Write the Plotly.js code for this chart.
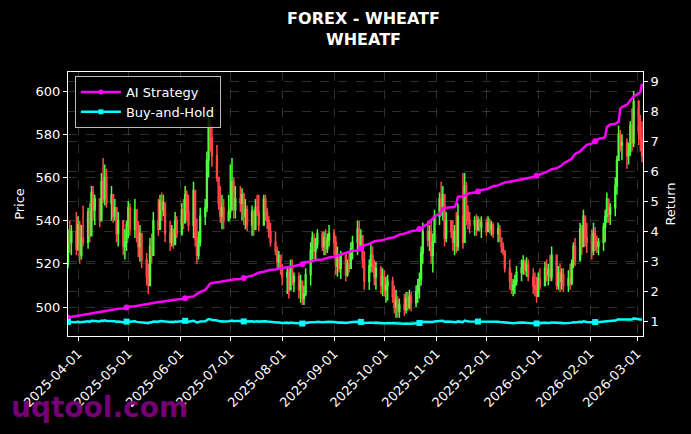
<!DOCTYPE html>
<html>
<head>
<meta charset="utf-8">
<script src="https://cdn.plot.ly/plotly-3.0.1.min.js"></script>
<style>
html,body{margin:0;padding:0;background:#000;}
#chart{width:691px;height:434px;}
</style>
</head>
<body>
<div id="chart"></div>
<script>
// ---- Data ----
const startDate = '2025-03-26';   // first trading day shown
const firstOpen = 520;

const closes = [
 533,530,535,527,538,524,532,530,544,533,
 553,545,550,540,558,550,560,548,552,542,
 546,534,540,528,530,538,546,536,545,533,
 528,534,522,514,510,528,524,540,536,549,
 545,548,534,530,536,529,540,534,545,539,
 552,544,538,554,532,524,530,542,546,568,
 585,578,570,560,548,542,546,540,544,545,
 558,545,550,548,552,542,545,538,544,536,
 546,544,538,550,544,540,535,530,526,521,
 524,518,514,516,508,519,512,514,508,512,
 504,506,515,526,532,526,529,534,528,532,
 527,531,534,530,519,522,518,524,515,520,
 518,527,530,536,528,533,522,512,519,524,
 520,514,518,510,514,508,510,512,505,500,
 503,498,501,499,504,500,505,502,507,510,
 513,525,535,531,535,524,530,542,550,547,
 552,532,540,535,530,535,528,542,530,556,
 544,540,538,540,536,540,537,539,535,539,
 536,538,534,536,532,528,526,518,512,508,
 510,512,516,518,521,517,520,514,510,508,
 505,513,510,518,515,517,514,524,510,516,
 512,515,510,513,511,520,528,522,536,528,
 542,532,530,526,534,530,528,530,537,542,
 550,543,546,556,568,580,575,576,570,572,
 584,576,595,582,578,570
];

const highs = [
 536,540,538,544,542,540,538,547,546,548,
 556,556,552,550,562,569,566,564,556,552,
 550,546,544,538,536,540,549,548,550,544,
 540,538,532,525,520,532,534,544,550,552,
 553,552,546,540,538,536,544,542,548,550,
 556,554,552,558,548,541,535,546,550,572,
 590,587,584,575,560,556,552,550,552,566,
 569,560,556,556,555,553,550,547,547,545,
 550,552,552,552,552,546,542,539,535,528,
 526,524,520,519,518,522,522,516,516,515,
 512,510,518,530,535,534,532,536,535,535,
 536,534,538,536,533,528,524,526,525,522,
 526,530,533,540,540,536,530,526,522,529,
 528,522,521,519,518,517,514,515,514,510,
 508,505,504,506,507,507,508,507,510,513,
 516,528,539,540,538,540,534,545,553,558,
 556,548,544,540,540,538,544,548,562,562,
 558,547,544,542,543,542,541,542,541,542,
 541,540,539,539,538,532,530,526,522,516,
 513,515,519,522,524,522,523,522,518,516,
 514,516,518,521,522,520,524,528,522,519,
 520,518,518,517,520,522,530,532,539,538,
 545,542,539,536,539,537,533,532,539,545,
 553,550,548,560,570,584,582,580,578,576,
 586,592,600,596,589,586
];

const lows = [
 518,525,524,524,526,520,522,528,527,530,
 536,540,538,537,540,548,547,546,540,539,
 540,530,528,524,522,526,532,533,532,530,
 523,521,518,510,506,512,520,524,533,536,
 540,542,530,526,528,527,530,532,533,536,
 539,540,535,532,528,520,522,528,538,544,
 560,572,565,558,545,539,536,536,540,541,
 550,541,541,544,540,538,536,535,533,533,
 540,542,535,541,540,536,532,528,524,518,
 518,515,510,506,504,508,510,507,504,502,
 501,501,505,510,522,522,522,527,526,524,
 524,525,528,524,515,514,516,513,512,514,
 516,518,522,524,526,527,518,508,508,516,
 516,510,508,506,505,505,502,503,502,497,
 495,495,495,496,497,498,499,498,500,502,
 504,510,520,528,526,520,516,530,538,542,
 540,528,530,532,526,524,525,526,527,540,
 538,536,534,533,533,535,535,532,533,536,
 534,533,532,530,530,525,524,516,508,506,
 505,506,510,512,515,515,514,512,506,505,
 502,508,508,513,512,510,512,512,508,508,
 507,508,507,507,508,510,518,519,521,524,
 532,528,525,522,524,526,525,524,526,530,
 539,539,538,542,552,568,572,568,564,566,
 570,572,574,575,572,567
];

const aiStrategy = [
 1.15,1.16,1.17,1.19,1.20,1.21,1.23,1.24,1.25,1.27,
 1.28,1.30,1.31,1.33,1.34,1.35,1.36,1.38,1.39,1.40,
 1.41,1.43,1.44,1.45,1.47,1.48,1.50,1.51,1.52,1.53,
 1.55,1.56,1.58,1.59,1.61,1.62,1.64,1.65,1.67,1.67,
 1.67,1.68,1.69,1.70,1.71,1.72,1.74,1.75,1.76,1.78,
 1.79,1.80,1.82,1.85,1.89,1.94,1.97,2.00,2.06,2.14,
 2.22,2.28,2.30,2.31,2.33,2.34,2.35,2.36,2.38,2.39,
 2.40,2.41,2.42,2.43,2.44,2.46,2.47,2.50,2.53,2.56,
 2.59,2.61,2.64,2.67,2.69,2.70,2.72,2.74,2.75,2.77,
 2.78,2.79,2.80,2.81,2.83,2.84,2.85,2.86,2.88,2.89,
 2.92,2.96,3.00,3.01,3.03,3.04,3.05,3.07,3.08,3.10,
 3.11,3.13,3.15,3.17,3.19,3.21,3.22,3.25,3.29,3.32,
 3.34,3.36,3.37,3.38,3.39,3.45,3.50,3.55,3.60,3.64,
 3.66,3.68,3.70,3.71,3.72,3.74,3.76,3.78,3.80,3.82,
 3.85,3.88,3.91,3.94,3.96,3.98,4.00,4.02,4.05,4.08,
 4.10,4.11,4.18,4.26,4.34,4.40,4.44,4.52,4.60,4.70,
 4.78,4.80,4.81,4.82,4.82,4.83,4.94,5.17,5.19,5.21,
 5.24,5.26,5.29,5.31,5.33,5.35,5.37,5.40,5.42,5.45,
 5.48,5.50,5.52,5.55,5.57,5.60,5.62,5.65,5.67,5.68,
 5.70,5.71,5.73,5.74,5.75,5.77,5.78,5.80,5.83,5.85,
 5.87,5.89,5.92,5.96,6.00,6.03,6.06,6.09,6.12,6.15,
 6.17,6.22,6.28,6.35,6.40,6.44,6.52,6.60,6.68,6.74,
 6.78,6.84,6.90,6.94,6.98,7.02,7.06,7.10,7.14,7.17,
 7.50,7.55,7.58,7.60,7.64,7.67,8.11,8.16,8.24,8.32,
 8.39,8.45,8.52,8.61,8.66,8.94
];

const seriesNames = ['AI Strategy', 'Buy-and-Hold'];
const xTickLabels = ['2025-04-01','2025-05-01','2025-06-01','2025-07-01','2025-08-01','2025-09-01',
 '2025-10-01','2025-11-01','2025-12-01','2026-01-01','2026-02-01','2026-03-01'];
const priceTicks = [500,520,540,560,580,600];
const returnTicks = [1,2,3,4,5,6,7,8,9];

// ---- Derived ----
// trading-day calendar (Mon-Fri) starting at startDate
const dates = [];
{
  let d = new Date(startDate + 'T00:00:00Z');
  while (dates.length < closes.length) {
    const wd = d.getUTCDay();
    if (wd !== 0 && wd !== 6) dates.push(d.toISOString().slice(0,10));
    d = new Date(d.getTime() + 86400000);
  }
}
const opens = [firstOpen].concat(closes.slice(0, -1));
const buyHold = closes.map(c => c / closes[0]);
const markEvery = 25;
const pick = arr => arr.filter((_, i) => i % markEvery === 0);

const GREEN = '#4dff3d';
const RED = '#ff4747';
const MAG = '#ff00ff';
const CYAN = '#00ffff';
const FONT = 'DejaVu Sans, Verdana, sans-serif';

const traces = [
  {
    type: 'candlestick',
    x: dates, open: opens, high: highs, low: lows, close: closes,
    increasing: {line: {color: GREEN, width: 1.5}, fillcolor: GREEN},
    decreasing: {line: {color: RED, width: 1.5}, fillcolor: RED},
    whiskerwidth: 0, showlegend: false, hoverinfo: 'skip', yaxis: 'y'
  },
  // lines
  {type: 'scatter', mode: 'lines', x: dates, y: aiStrategy, yaxis: 'y2',
   line: {color: MAG, width: 2.5}, showlegend: false, legendgroup: 'ai'},
  {type: 'scatter', mode: 'lines', x: dates, y: buyHold, yaxis: 'y2',
   line: {color: CYAN, width: 2.5}, showlegend: false, legendgroup: 'bh'},
  // periodic markers
  {type: 'scatter', mode: 'markers', x: pick(dates), y: pick(aiStrategy), yaxis: 'y2',
   marker: {color: MAG, size: 6, symbol: 'circle', line: {width: 0}}, showlegend: false, legendgroup: 'ai'},
  {type: 'scatter', mode: 'markers', x: pick(dates), y: pick(buyHold), yaxis: 'y2',
   marker: {color: CYAN, size: 6, symbol: 'square', line: {width: 0}}, showlegend: false, legendgroup: 'bh'},
  // legend entries
  {type: 'scatter', mode: 'lines+markers', name: seriesNames[0], x: [null], y: [null], yaxis: 'y2',
   line: {color: MAG, width: 2.5}, marker: {color: MAG, size: 5, symbol: 'circle'}, legendgroup: 'ai'},
  {type: 'scatter', mode: 'lines+markers', name: seriesNames[1], x: [null], y: [null], yaxis: 'y2',
   line: {color: CYAN, width: 2.5}, marker: {color: CYAN, size: 5, symbol: 'square'}, legendgroup: 'bh'}
];

const gridStyle = {
  showgrid: true, gridcolor: 'rgba(140,140,140,0.55)', gridwidth: 0.6, griddash: 'dash'
};

const layout = {
  width: 691, height: 434,
  paper_bgcolor: '#000', plot_bgcolor: '#000',
  font: {family: FONT, color: '#fff', size: 13},
  margin: {l: 68, r: 48, t: 72, b: 98, pad: 0},
  title: {
    text: '<b>FOREX - WHEATF</b><br><b>WHEATF</b>',
    x: 0.514, xanchor: 'center', xref: 'paper',
    y: 0.945, yanchor: 'top', yref: 'container',
    font: {family: FONT, size: 16, color: '#fff'}
  },
  showlegend: true,
  legend: {
    x: 0.012, y: 0.985, xanchor: 'left', yanchor: 'top',
    bgcolor: 'rgba(0,0,0,0.8)', bordercolor: '#bbbbbb', borderwidth: 1,
    font: {family: FONT, size: 13, color: '#fff'},
    itemwidth: 40, tracegroupgap: 0
  },
  xaxis: Object.assign({
    type: 'date',
    range: ['2025-03-26', '2026-03-04 14:00'],
    rangeslider: {visible: false},
    tickvals: xTickLabels, ticktext: xTickLabels,
    tickangle: -45,
    tickfont: {family: FONT, size: 13, color: '#fff'},
    ticks: 'outside', ticklen: 4, tickcolor: '#fff', tickwidth: 1,
    showline: true, linecolor: '#fff', linewidth: 1, mirror: true,
    zeroline: false
  }, gridStyle),
  yaxis: Object.assign({
    range: [486.6, 608.8],
    tickvals: priceTicks,
    title: {text: 'Price', font: {family: FONT, size: 13, color: '#fff'}, standoff: 8},
    tickfont: {family: FONT, size: 13, color: '#fff'},
    ticks: 'outside', ticklen: 4, tickcolor: '#fff', tickwidth: 1,
    showline: true, linecolor: '#fff', linewidth: 1, mirror: true,
    zeroline: false
  }, gridStyle),
  yaxis2: Object.assign({
    overlaying: 'y', side: 'right',
    range: [0.53, 9.33],
    tickvals: returnTicks,
    title: {text: 'Return', font: {family: FONT, size: 13, color: '#fff'}, standoff: 8},
    tickfont: {family: FONT, size: 13, color: '#fff'},
    ticks: 'outside', ticklen: 4, tickcolor: '#fff', tickwidth: 1,
    showline: true, linecolor: '#fff', linewidth: 1,
    zeroline: false
  }, gridStyle),
  annotations: [{
    text: '<b>uqtool.com</b>',
    xref: 'paper', yref: 'paper', x: -0.103, y: -0.2,
    xanchor: 'left', yanchor: 'top', showarrow: false,
    font: {family: FONT, size: 28, color: 'rgba(128,0,128,0.92)'}
  }]
};

Plotly.newPlot('chart', traces, layout, {staticPlot: true, displayModeBar: false});
</script>
</body>
</html>
